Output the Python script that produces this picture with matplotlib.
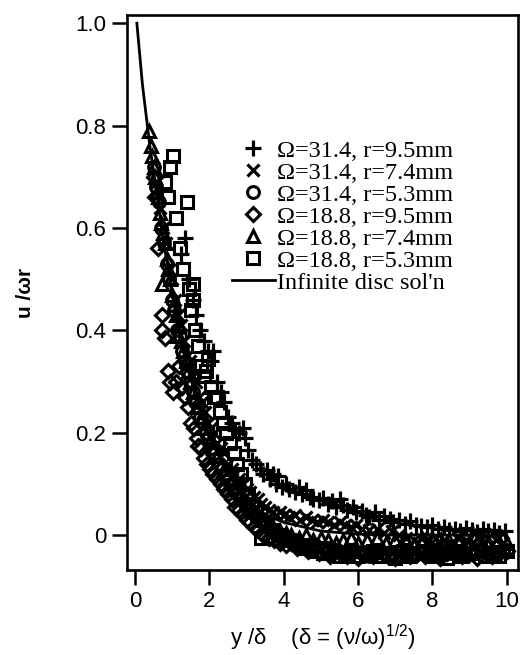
import matplotlib
matplotlib.use("Agg")
import matplotlib.pyplot as plt

#  infinite disc solution
curve_x = [0.05, 0.2, 0.4, 0.6, 0.8, 1.0, 1.2, 1.4, 1.6, 1.8, 2.0, 2.5, 3.0, 3.5, 4.0, 5.0, 6.0, 7.0, 8.0, 9.0, 10.0]
curve_y = [1.0, 0.88, 0.76, 0.66, 0.56, 0.47, 0.40, 0.33, 0.28, 0.23, 0.19, 0.12, 0.07, 0.04, 0.025, 0.008, 0.002, 0.0, 0.0, 0.0, 0.0]

#  Omega=31.4, r=9.5mm  (+)
plus_x = [1.25, 1.35, 1.45, 1.55, 1.65, 1.75, 1.85, 1.95, 2.05, 2.1, 2.2, 2.3, 2.4, 2.5, 2.6, 2.7, 2.8, 2.9, 2.95, 3.05,
          3.15, 3.25, 3.35, 3.45, 3.55, 3.62, 3.7, 3.78, 3.85, 3.95, 4.05, 4.15, 4.3, 4.4, 4.5, 4.6, 4.7, 4.8, 4.95, 5.05,
          5.2, 5.3, 5.4, 5.5, 5.6, 5.7, 5.85, 5.95, 6.1, 6.2, 6.3, 6.45, 6.55, 6.7, 6.85, 6.95, 7.1, 7.25, 7.4, 7.55,
          7.7, 7.85, 8.0, 8.15, 8.3, 8.45, 8.6, 8.75, 8.9, 9.05, 9.2, 9.35, 9.5, 9.65, 9.8, 9.95]
plus_y = [0.55, 0.58, 0.50, 0.46, 0.43, 0.40, 0.38, 0.36, 0.34, 0.36, 0.30, 0.28, 0.26, 0.23, 0.22, 0.205, 0.20, 0.21, 0.19, 0.166,
          0.146, 0.14, 0.13, 0.12, 0.127, 0.11, 0.12, 0.10, 0.115, 0.095, 0.10, 0.09, 0.085, 0.094, 0.08, 0.088, 0.075, 0.07, 0.068, 0.072,
          0.06, 0.066, 0.055, 0.07, 0.058, 0.05, 0.055, 0.045, 0.048, 0.04, 0.035, 0.045, 0.03, 0.038, 0.032, 0.025, 0.03, 0.022, 0.028, 0.02,
          0.018, 0.015, 0.02, 0.012, 0.015, 0.01, 0.012, 0.008, 0.014, 0.01, 0.006, 0.012, 0.008, 0.01, 0.005, 0.008]

#  Omega=31.4, r=7.4mm  (x)
cross_x = [0.6, 0.68, 0.76, 0.84, 0.92, 1.0, 1.08, 1.16, 1.24, 1.32, 1.4, 1.48, 1.56, 1.64, 1.72, 1.8, 1.88, 1.96, 2.04, 2.12,
           2.2, 2.3, 2.4, 2.5, 2.6, 2.7, 2.8, 2.9, 3.0, 3.1, 3.2, 3.3, 3.4, 3.5, 3.6, 3.7, 3.8, 3.9, 4.0, 4.15,
           4.3, 4.45, 4.6, 4.75, 4.9, 5.05, 5.2, 5.35, 5.5, 5.65, 5.8, 5.95, 6.1, 6.3, 6.5, 6.7, 6.9, 7.1, 7.3, 7.5,
           7.7, 7.9, 8.1, 8.3, 8.5, 8.7, 8.9, 9.1, 9.3, 9.5, 9.7, 9.9]
cross_y = [0.69, 0.64, 0.60, 0.57, 0.52, 0.50, 0.46, 0.43, 0.41, 0.38, 0.35, 0.34, 0.31, 0.30, 0.27, 0.26, 0.24, 0.22, 0.21, 0.20,
           0.18, 0.17, 0.16, 0.14, 0.13, 0.12, 0.11, 0.10, 0.09, 0.085, 0.075, 0.07, 0.06, 0.055, 0.05, 0.045, 0.04, 0.045, 0.04, 0.035,
           0.04, 0.03, 0.035, 0.03, 0.025, 0.03, 0.025, 0.02, 0.025, 0.02, 0.015, 0.02, 0.012, 0.01, 0.012, 0.005, 0.008, 0.0, -0.005, -0.01,
           -0.005, -0.01, -0.005, -0.01, -0.015, -0.005, -0.01, -0.015, -0.01, -0.005, -0.01, -0.015]

#  Omega=31.4, r=5.3mm  (o)
circ_x = [0.5, 0.57, 0.64, 0.71, 0.78, 0.85, 0.92, 0.99, 1.06, 1.13, 1.2, 1.27, 1.34, 1.41, 1.48, 1.55, 1.62, 1.69, 1.76, 1.83,
          1.9, 1.97, 2.05, 2.15, 2.25, 2.35, 2.45, 2.55, 2.65, 2.75, 2.85, 2.95, 3.05, 3.15, 3.25, 3.35, 3.5, 3.65, 3.8, 3.95,
          4.1, 4.25, 4.4, 4.55, 4.7, 4.85, 5.0, 5.15, 5.3, 5.45, 5.6, 5.75, 5.9, 6.1, 6.3, 6.5, 6.7, 6.9, 7.1, 7.3,
          7.5, 7.7, 7.9, 8.1, 8.3, 8.5, 8.7, 8.9, 9.1, 9.3, 9.5, 9.7, 9.9]
circ_y = [0.72, 0.68, 0.65, 0.60, 0.57, 0.53, 0.50, 0.46, 0.44, 0.40, 0.39, 0.36, 0.34, 0.32, 0.30, 0.28, 0.26, 0.25, 0.23, 0.22,
          0.20, 0.19, 0.17, 0.16, 0.14, 0.13, 0.115, 0.10, 0.09, 0.08, 0.07, 0.06, 0.05, 0.045, 0.035, 0.03, 0.02, 0.01, 0.005, 0.0,
          -0.005, -0.01, -0.015, -0.02, -0.025, -0.02, -0.03, -0.025, -0.035, -0.03, -0.035, -0.04, -0.03, -0.035, -0.04, -0.03, -0.035, -0.04, -0.03, -0.035,
          -0.04, -0.03, -0.035, -0.04, -0.03, -0.035, -0.03, -0.04, -0.035, -0.03, -0.035, -0.04, -0.03]

#  Omega=18.8, r=9.5mm  (diamond)
diam_x = [0.5, 0.55, 0.62, 0.72, 0.72, 0.8, 0.88, 0.95, 1.03, 1.1, 1.18, 1.26, 1.34, 1.42, 1.5, 1.58, 1.66, 1.7, 1.78, 1.86,
          1.94, 2.02, 2.1, 2.2, 2.3, 2.4, 2.5, 2.6, 2.7, 2.8, 2.9, 3.0, 3.1, 3.2, 3.3, 3.45, 3.6, 3.75, 3.9, 4.05,
          4.2, 4.35, 4.5, 4.65, 4.8, 4.95, 5.1, 5.25, 5.4, 5.55, 5.7, 5.85, 6.0, 6.2, 6.4, 6.6, 6.8, 7.0, 7.2, 7.4,
          7.6, 7.8, 8.0, 8.2, 8.4, 8.6, 8.8, 9.0, 9.2, 9.4, 9.6, 9.8, 10.0]
diam_y = [0.70, 0.66, 0.56, 0.43, 0.40, 0.385, 0.32, 0.30, 0.28, 0.30, 0.33, 0.29, 0.27, 0.25, 0.22, 0.21, 0.19, 0.175, 0.17, 0.15,
          0.14, 0.13, 0.12, 0.11, 0.10, 0.09, 0.08, 0.07, 0.055, 0.05, 0.04, 0.03, 0.025, 0.015, 0.01, 0.0, -0.005, -0.01, -0.015, -0.02,
          -0.015, -0.025, -0.02, -0.03, -0.025, -0.035, -0.03, -0.04, -0.03, -0.035, -0.04, -0.03, -0.045, -0.035, -0.04, -0.03, -0.04, -0.045, -0.035, -0.04,
          -0.03, -0.04, -0.035, -0.045, -0.035, -0.03, -0.04, -0.035, -0.045, -0.03, -0.04, -0.035, -0.03]

#  Omega=18.8, r=7.4mm  (triangle)
tri_x = [0.38, 0.42, 0.46, 0.5, 0.54, 0.58, 0.62, 0.66, 0.7, 0.73, 0.76, 0.8, 0.85, 0.9, 0.95, 1.0, 1.05, 1.1, 1.13, 1.18,
         1.24, 1.3, 1.36, 1.42, 1.48, 1.55, 1.62, 1.7, 1.78, 1.86, 1.94, 2.02, 2.1, 2.2, 2.3, 2.4, 2.5, 2.6, 2.7, 2.8,
         2.9, 3.0, 3.15, 3.3, 3.45, 3.6, 3.75, 3.9, 4.05, 4.2, 4.4, 4.6, 4.8, 5.0, 5.2, 5.4, 5.6, 5.8, 6.0, 6.25,
         6.5, 6.75, 7.0, 7.25, 7.5, 7.75, 8.0, 8.25, 8.5, 8.75, 9.0, 9.25, 9.5, 9.75, 10.0]
tri_y = [0.79, 0.76, 0.74, 0.72, 0.70, 0.67, 0.66, 0.63, 0.61, 0.49, 0.59, 0.57, 0.54, 0.52, 0.50, 0.47, 0.45, 0.43, 0.39, 0.41,
         0.38, 0.36, 0.34, 0.32, 0.30, 0.28, 0.27, 0.25, 0.23, 0.21, 0.20, 0.185, 0.17, 0.155, 0.14, 0.13, 0.12, 0.105, 0.095, 0.085,
         0.075, 0.065, 0.05, 0.04, 0.03, 0.02, 0.012, 0.008, 0.005, 0.0, -0.005, 0.0, -0.01, -0.005, -0.01, -0.015, -0.01, -0.005, -0.015, -0.01,
         -0.005, -0.015, -0.01, -0.005, -0.02, -0.01, -0.005, -0.015, -0.02, -0.01, -0.015, -0.005, -0.02, -0.01, -0.015]

#  Omega=18.8, r=5.3mm  (square)
sq_x = [0.8, 0.9, 0.94, 1.02, 1.1, 1.2, 1.3, 1.4, 1.45, 1.5, 1.56, 1.56, 1.62, 1.7, 1.78, 1.86, 1.9, 1.96, 2.05, 2.12,
        2.2, 2.28, 2.36, 2.45, 2.55, 2.65, 2.75, 2.85, 2.95, 3.05, 3.15, 3.25, 3.4, 3.55, 3.7, 3.85, 4.0, 4.15, 4.3, 4.45,
        4.6, 4.75, 4.9, 5.05, 5.2, 5.35, 5.5, 5.65, 5.8, 6.0, 6.2, 6.4, 6.6, 6.8, 7.0, 7.2, 7.4, 7.6, 7.8, 8.0,
        8.2, 8.4, 8.6, 8.8, 9.0, 9.2, 9.4, 9.6, 9.8, 10.0]
sq_y = [0.69, 0.66, 0.72, 0.74, 0.62, 0.56, 0.52, 0.65, 0.48, 0.44, 0.49, 0.46, 0.40, 0.37, 0.33, 0.31, 0.32, 0.345, 0.29, 0.27,
        0.27, 0.24, 0.22, 0.20, 0.18, 0.16, 0.14, 0.12, 0.10, 0.08, 0.06, 0.045, -0.005, 0.02, 0.01, 0.0, -0.005, -0.01, -0.015, -0.02,
        -0.025, -0.02, -0.03, -0.035, -0.025, -0.03, -0.04, -0.035, -0.03, -0.04, -0.035, -0.03, -0.04, -0.035, -0.045, -0.03, -0.04, -0.035, -0.03, -0.04,
        -0.035, -0.045, -0.03, -0.04, -0.035, -0.03, -0.04, -0.035, -0.04, -0.03]

labels = ["\u03a9=31.4, r=9.5mm", "\u03a9=31.4, r=7.4mm", "\u03a9=31.4, r=5.3mm",
          "\u03a9=18.8, r=9.5mm", "\u03a9=18.8, r=7.4mm", "\u03a9=18.8, r=5.3mm"]

plt.rcParams['font.family'] = ['Liberation Sans', 'DejaVu Sans']
plt.rcParams['mathtext.fontset'] = 'custom'
plt.rcParams['mathtext.rm'] = 'Liberation Sans'

fig = plt.figure(figsize=(5.21, 6.55), dpi=100)
ax = fig.add_axes([0.2438, 0.1298, 0.7504, 0.8472])

series = [
    (plus_x, plus_y, dict(marker='+', ms=11, mew=2.3)),
    (cross_x, cross_y, dict(marker='x', ms=9, mew=2.3)),
    (circ_x, circ_y, dict(marker='o', ms=8.5, mew=2.2, mfc='none')),
    (diam_x, diam_y, dict(marker='D', ms=7, mew=2.2, mfc='none')),
    (tri_x, tri_y, dict(marker='^', ms=9, mew=2.2, mfc='none')),
    (sq_x, sq_y, dict(marker='s', ms=8.5, mew=2.2, mfc='none')),
]
for (xs, ys, kw), lab in zip(series, labels):
    ax.plot(xs, ys, linestyle='none', color='black', mec='black', label=lab, **kw)

ax.plot(curve_x, curve_y, color='black', lw=2.0, label="Infinite disc sol'n")

ax.set_xlim(-0.215, 10.3)
ax.set_ylim(-0.068, 1.016)
ax.set_xticks([0, 2, 4, 6, 8, 10])
ax.set_yticks([0, 0.2, 0.4, 0.6, 0.8, 1.0])
ax.set_yticklabels(['0', '0.2', '0.4', '0.6', '0.8', '1.0'])
ax.tick_params(direction='out', length=11, width=1.8, labelsize=16, pad=4)

for sp in ax.spines.values():
    sp.set_linewidth(1.9)

ax.set_xlabel("y /\u03b4    (\u03b4 = (\u03bd/\u03c9)$^{\\mathregular{1/2}}$)", fontsize=16, labelpad=8)
ax.set_ylabel("u /\u03c9r", fontsize=15, fontweight='bold', labelpad=29)

leg = ax.legend(loc='upper left', bbox_to_anchor=(0.445, 0.787), bbox_transform=fig.transFigure,
                frameon=False, borderpad=0, borderaxespad=0, handlelength=1.77, handletextpad=0.08,
                labelspacing=0.0, markerscale=1.0, prop={'family': 'Liberation Serif', 'size': 17.5})

fig.savefig("out.png", dpi=100)
